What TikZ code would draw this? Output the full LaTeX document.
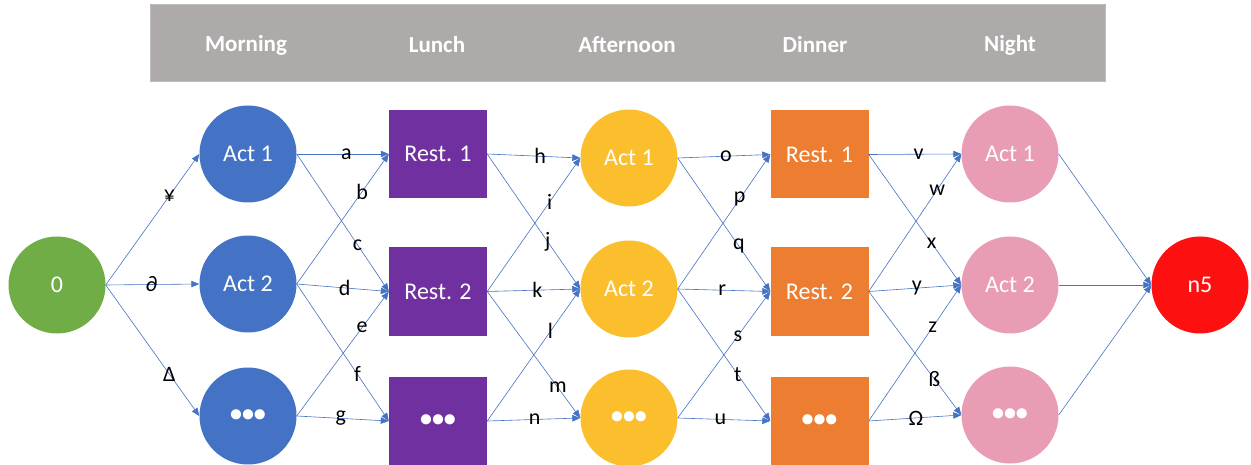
\documentclass[tikz,border=0pt]{standalone}
\usepackage{fontspec}
\setmainfont{Carlito}
\usetikzlibrary{arrows.meta}
\definecolor{hdrgray}{HTML}{AEAAAA}
\definecolor{startgreen}{HTML}{70AD47}
\definecolor{actblue}{HTML}{4472C4}
\definecolor{lunchpurple}{HTML}{7030A0}
\definecolor{aftgold}{HTML}{FBBF2D}
\definecolor{dinorange}{HTML}{ED7D31}
\definecolor{nightpink}{HTML}{E99DB5}
\definecolor{endred}{HTML}{FF1010}
\definecolor{linkblue}{HTML}{4472C4}
\tikzset{
  roundnode/.style={circle, minimum size=97pt, inner sep=0pt, text=white,
    font=\fontsize{24}{28}\selectfont},
  boxnode/.style={rectangle, minimum width=98pt, minimum height=88pt, inner sep=0pt,
    text=white, font=\fontsize{24}{28}\selectfont},
  slotlabel/.style={text=white, font=\fontsize{23}{27}\selectfont\bfseries},
  link/.style={draw=linkblue, line width=0.6pt,
    -{Triangle[length=8pt,width=6.5pt]}},
  lbl/.style={text=black, inner sep=0pt, font=\fontsize{22}{26}\selectfont},
}
\newcommand{\dotsrow}{\textbf{•••}}
\begin{document}
\begin{tikzpicture}[x=1pt,y=-1pt]
\useasboundingbox (0,0) rectangle (1251,465);

% header band with the time slots
\node[draw=hdrgray!80!white, fill=hdrgray, minimum width=955pt, minimum height=77pt,
  inner sep=0pt] (hdr) at (627.5,42.5) {};
\node[slotlabel] (tm) at (246,45) {Morning};
\node[slotlabel] (tl) at (437,45) {Lunch};
\node[slotlabel] (ta) at (627,45) {Afternoon};
\node[slotlabel] (td) at (815,45) {Dinner};
\node[slotlabel] (tn) at (1010,45) {Night};

% start and end
\node[roundnode, fill=startgreen] (S) at (57,285) {0};
\node[roundnode, fill=endred] (E) at (1200,285) {n5};

% morning activities
\node[roundnode, fill=actblue] (M1) at (248,154) {Act 1};
\node[roundnode, fill=actblue] (M2) at (248,284) {Act 2};
\node[roundnode, fill=actblue] (M3) at (248,416) {\dotsrow};

% lunch restaurants
\node[boxnode, fill=lunchpurple] (L1) at (438,154) {Rest. 1};
\node[boxnode, fill=lunchpurple] (L2) at (438,291.5) {Rest. 2};
\node[boxnode, fill=lunchpurple] (L3) at (438,421) {\dotsrow};

% afternoon activities
\node[roundnode, fill=aftgold] (A1) at (629,158) {Act 1};
\node[roundnode, fill=aftgold] (A2) at (629,289) {Act 2};
\node[roundnode, fill=aftgold] (A3) at (629,418) {\dotsrow};

% dinner restaurants
\node[boxnode, fill=dinorange] (D1) at (819.5,154.5) {Rest. 1};
\node[boxnode, fill=dinorange] (D2) at (819.5,291.5) {Rest. 2};
\node[boxnode, fill=dinorange] (D3) at (819.5,421) {\dotsrow};

% night activities
\node[roundnode, fill=nightpink] (N1) at (1010,154) {Act 1};
\node[roundnode, fill=nightpink] (N2) at (1010,285) {Act 2};
\node[roundnode, fill=nightpink] (N3) at (1010,415) {\dotsrow};

% start -> morning
\draw[link] (S.east) -- node[lbl,pos=.68]{¥} (M1.west);
\draw[link] (S.east) -- node[lbl,pos=.49]{∂} (M2.west);
\draw[link] (S.east) -- node[lbl,pos=.68]{Δ} (M3.west);

% morning -> lunch
\draw[link] (M1.east) -- node[lbl,pos=.54]{a} (L1.west);
\draw[link] (M2.east) -- node[lbl,pos=.71]{b} (L1.west);
\draw[link] (M1.east) -- node[lbl,pos=.66]{c} (L2.west);
\draw[link] (M2.east) -- node[lbl,pos=.52]{d} (L2.west);
\draw[link] (M3.east) -- node[lbl,pos=.71]{e} (L2.west);
\draw[link] (M2.east) -- node[lbl,pos=.66]{f} (L3.west);
\draw[link] (M3.east) -- node[lbl,pos=.48]{g} (L3.west);

% lunch -> afternoon
\draw[link] (L1.east) -- node[lbl,pos=.57]{h} (A1.west);
\draw[link] (L2.east) -- node[lbl,pos=.67]{i} (A1.west);
\draw[link] (L1.east) -- node[lbl,pos=.65]{j} (A2.west);
\draw[link] (L2.east) -- node[lbl,pos=.54]{k} (A2.west);
\draw[link] (L3.east) -- node[lbl,pos=.68]{l} (A2.west);
\draw[link] (L2.east) -- node[lbl,pos=.76]{m} (A3.west);
\draw[link] (L3.east) -- node[lbl,pos=.51]{n} (A3.west);

% afternoon -> dinner
\draw[link] (A1.east) -- node[lbl,pos=.52]{o} (D1.west);
\draw[link] (A2.east) -- node[lbl,pos=.67]{p} (D1.west);
\draw[link] (A1.east) -- node[lbl,pos=.66]{q} (D2.west);
\draw[link] (A2.east) -- node[lbl,pos=.48]{r} (D2.west);
\draw[link] (A3.east) -- node[lbl,pos=.65]{s} (D2.west);
\draw[link] (A2.east) -- node[lbl,pos=.65]{t} (D3.west);
\draw[link] (A3.east) -- node[lbl,pos=.46]{u} (D3.west);

% dinner -> night
\draw[link] (D1.east) -- node[lbl,pos=.54]{v} (N1.west);
\draw[link] (D2.east) -- node[lbl,pos=.74]{w} (N1.west);
\draw[link] (D1.east) -- node[lbl,pos=.68]{x} (N2.west);
\draw[link] (D2.east) -- node[lbl,pos=.52]{y} (N2.west);
\draw[link] (D3.east) -- node[lbl,pos=.69]{z} (N2.west);
\draw[link] (D2.east) -- node[lbl,pos=.71]{ß} (N3.west);
\draw[link] (D3.east) -- node[lbl,pos=.51]{Ω} (N3.west);

% night -> end
\draw[link] (N1.east) -- (E.west);
\draw[link] (N2.east) -- (E.west);
\draw[link] (N3.east) -- (E.west);
\end{tikzpicture}
\end{document}
